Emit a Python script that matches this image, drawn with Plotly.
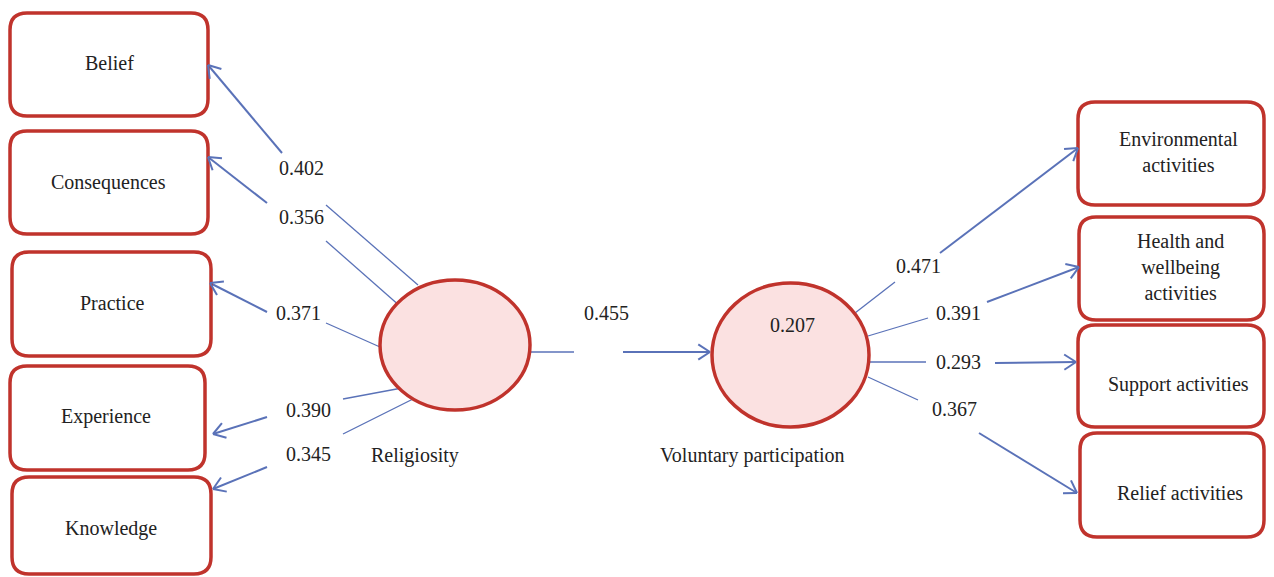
import math
import plotly.graph_objects as go

# ---- data ----
left_indicators = ["Belief", "Consequences", "Practice", "Experience", "Knowledge"]
left_loadings = [0.402, 0.356, 0.371, 0.390, 0.345]
right_indicators = ["Environmental<br>activities", "Health and<br>wellbeing<br>activities",
                    "Support activities", "Relief activities"]
right_loadings = [0.471, 0.391, 0.293, 0.367]
constructs = ["Religiosity", "Voluntary participation"]
path_coefficient = 0.455
r_squared = 0.207

# ---- layout geometry (pixel space) ----
W, H = 1274, 577
OFF = 8  # page body margin
left_boxes = [(10, 208, 13, 116), (10, 208, 131, 234), (12, 211, 252, 356),
              (10, 205, 366, 470), (12, 211, 477, 574)]
right_boxes = [(1078, 1264, 102, 205), (1079, 1264, 217, 320),
               (1078, 1264, 325, 427), (1080, 1264, 433, 537)]
left_text_pos = [(109, 63), (108, 182), (112, 303), (106, 416), (111, 528)]
right_text_pos = [(1178, 152), (1180, 267), (1178, 384), (1180, 493)]
left_segments = [((418, 285), (326, 205), (282, 153), (208, 65)),
                 ((401, 307), (326, 241), (267, 203), (208, 157)),
                 ((380, 347), (326, 323), (267, 312), (210, 283)),
                 ((402, 388), (343, 399), (267, 417), (213, 434)),
                 ((413, 399), (343, 434), (267, 467), (213, 489))]
left_label_pos = [(301, 168), (301, 217), (298, 313), (308, 410), (308, 454)]
right_segments = [((855, 313), (895, 282), (940, 253), (1078, 148)),
                  ((868, 336), (928, 318), (987, 302), (1079, 267)),
                  ((852, 362), (926, 362), (995, 363), (1076, 362)),
                  ((868, 377), (918, 400), (979, 433), (1077, 493))]
right_label_pos = [(918, 266), (958, 313), (958, 362), (954, 409)]
center_segment = ((530, 352), (574, 352), (623, 352), (710, 352))
center_label_pos = (606, 313)
circles = [(380, 530, 280, 410), (712, 869, 283, 427)]
construct_label_pos = [(415, 455), (752, 455)]
r2_pos = (792, 325)

RED = "#C0332C"
FILL = "#FBE1E1"
BLUE = "#5A72B8"
TXT = "#222222"
FONT = "Liberation Serif, Times New Roman, serif"

shapes = []
annotations = []


def rounded_rect(x0, x1, y0, y1, r=17):
    return (f"M{x0+r},{y0} L{x1-r},{y0} Q{x1},{y0} {x1},{y0+r} "
            f"L{x1},{y1-r} Q{x1},{y1} {x1-r},{y1} L{x0+r},{y1} "
            f"Q{x0},{y1} {x0},{y1-r} L{x0},{y0+r} Q{x0},{y0} {x0+r},{y0} Z")


def line(p, q, width):
    shapes.append(dict(type="line", x0=p[0], y0=p[1], x1=q[0], y1=q[1],
                       xref="x", yref="y", line=dict(color=BLUE, width=width),
                       layer="below"))


def arrowhead(p, q, length=14, ang=33):
    dx, dy = q[0] - p[0], q[1] - p[1]
    n = math.hypot(dx, dy)
    ux, uy = dx / n, dy / n
    for s in (1, -1):
        a = math.radians(ang) * s
        bx = -ux * math.cos(a) + uy * math.sin(a)
        by = -uy * math.cos(a) - ux * math.sin(a)
        shapes.append(dict(type="line", x0=q[0], y0=q[1],
                           x1=q[0] + bx * length, y1=q[1] + by * length,
                           xref="x", yref="y", line=dict(color=BLUE, width=2)))


def label(x, y, text, size=20):
    annotations.append(dict(x=x, y=y, xref="x", yref="y", text=text,
                            showarrow=False, font=dict(family=FONT, size=size, color=TXT),
                            xanchor="center", yanchor="middle"))


def path_link(seg, lab_pos, value):
    a, b, c, d = seg
    line(a, b, 1.3)
    line(c, d, 2)
    arrowhead(c, d)
    label(lab_pos[0], lab_pos[1], f"{value:.3f}")


for (x0, x1, y0, y1), name, tp in zip(left_boxes, left_indicators, left_text_pos):
    shapes.append(dict(type="path", path=rounded_rect(x0, x1, y0, y1), xref="x", yref="y",
                       line=dict(color=RED, width=3.5), fillcolor="white"))
    label(tp[0], tp[1], name)
for (x0, x1, y0, y1), name, tp in zip(right_boxes, right_indicators, right_text_pos):
    shapes.append(dict(type="path", path=rounded_rect(x0, x1, y0, y1), xref="x", yref="y",
                       line=dict(color=RED, width=3.5), fillcolor="white"))
    label(tp[0], tp[1], name)

for seg, lp, v in zip(left_segments, left_label_pos, left_loadings):
    path_link(seg, lp, v)
for seg, lp, v in zip(right_segments, right_label_pos, right_loadings):
    path_link(seg, lp, v)
path_link(center_segment, center_label_pos, path_coefficient)

for (x0, x1, y0, y1), name, lp in zip(circles, constructs, construct_label_pos):
    shapes.append(dict(type="circle", x0=x0, x1=x1, y0=y0, y1=y1, xref="x", yref="y",
                       line=dict(color=RED, width=3.5), fillcolor=FILL, layer="above"))
    label(lp[0], lp[1], name)
label(r2_pos[0], r2_pos[1], f"{r_squared:.3f}")

fig = go.Figure()
fig.update_layout(
    width=W - OFF, height=H - OFF, margin=dict(l=0, r=0, t=0, b=0),
    paper_bgcolor="white", plot_bgcolor="white",
    xaxis=dict(range=[OFF, W], visible=False, fixedrange=True),
    yaxis=dict(range=[H, OFF], visible=False, fixedrange=True),
    shapes=shapes, annotations=annotations, showlegend=False,
)
fig.write_html("out.html")
